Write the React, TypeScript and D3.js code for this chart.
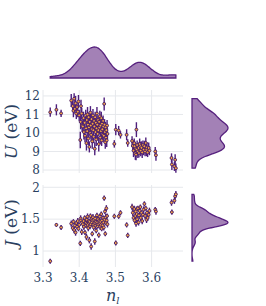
import * as d3 from "d3";

const W = 266;
const H = 306;

// n_l for each material, grouped roughly by cluster
const N_L = [
  3.320, 3.337, 3.350,
  3.378, 3.382, 3.384, 3.386, 3.388, 3.390, 3.392, 3.394, 3.396, 3.398, 3.400, 3.403, 3.404, 3.405, 3.407, 3.408,
  3.410, 3.412, 3.413, 3.415, 3.416, 3.418, 3.419, 3.420, 3.421, 3.422,
  3.423, 3.424, 3.425, 3.426, 3.427, 3.428, 3.429, 3.430, 3.431, 3.432,
  3.433, 3.434, 3.435, 3.436, 3.437, 3.438, 3.439, 3.440, 3.441, 3.442,
  3.443, 3.444, 3.445, 3.446, 3.447, 3.448, 3.449, 3.450, 3.451, 3.452,
  3.453, 3.454, 3.455, 3.456, 3.457, 3.458, 3.459, 3.460, 3.461, 3.462,
  3.463, 3.464, 3.465, 3.466, 3.467, 3.468, 3.469, 3.470, 3.471, 3.472,
  3.473, 3.474, 3.475, 3.476, 3.477, 3.478,
  3.497, 3.501, 3.509, 3.514, 3.531, 3.534, 3.546, 3.558,
  3.548, 3.550, 3.552, 3.553, 3.555, 3.556, 3.557, 3.559, 3.560, 3.562,
  3.564, 3.565, 3.567, 3.569, 3.570, 3.572, 3.574, 3.576, 3.578, 3.580,
  3.582, 3.584, 3.586, 3.587, 3.589, 3.592, 3.594, 3.610, 3.612,
  3.655, 3.656, 3.663, 3.665, 3.667,
];

const U_VAL = [
  11.12, 11.25, 11.06,
  11.75, 11.45, 11.20, 11.85, 11.30, 11.60, 11.05, 11.40, 11.15, 11.70, 10.95, 9.62, 10.60, 11.45, 11.05, 10.40,
  10.35, 10.80, 10.05, 10.55, 9.85, 10.95, 10.25, 9.45, 10.70, 10.10,
  11.00, 10.45, 9.70, 10.85, 10.30, 9.25, 10.60, 10.00, 11.10, 10.40,
  9.90, 10.75, 10.20, 9.55, 10.50, 10.95, 10.15, 9.80, 10.65, 10.35,
  9.15, 10.85, 10.05, 10.55, 9.65, 10.25, 11.05, 10.45, 9.95, 10.70,
  10.15, 9.40, 10.60, 10.30, 10.90, 9.75, 10.40, 10.10, 10.80, 9.60,
  10.50, 10.20, 9.90, 10.65, 10.35, 9.85, 11.57, 10.45, 10.05, 9.50,
  10.30, 9.75, 10.15, 9.60, 10.40, 9.95,
  9.41, 10.18, 10.13, 9.90, 9.90, 9.46, 9.57, 10.18,
  9.30, 9.05, 9.45, 9.28, 8.90, 9.15, 8.83, 9.10, 9.35, 9.00,
  9.19, 8.92, 9.40, 9.28, 9.05, 9.20, 8.95, 9.35, 9.10, 9.28,
  9.00, 9.46, 9.10, 9.22, 8.95, 9.19, 9.05, 9.00, 8.80,
  8.65, 8.30, 8.20, 8.55, 8.10,
];

const U_ERR = [
  0.25, 0.30, 0.20,
  0.35, 0.30, 0.35, 0.30, 0.25, 0.40, 0.30, 0.25, 0.30, 0.35, 0.30, 0.45, 0.40, 0.35, 0.30, 0.35,
  0.30, 0.35, 0.40, 0.30, 0.35, 0.30, 0.25, 0.40, 0.35, 0.30,
  0.40, 0.30, 0.35, 0.25, 0.35, 0.30, 0.40, 0.30, 0.35, 0.30,
  0.35, 0.30, 0.25, 0.40, 0.30, 0.35, 0.30, 0.35, 0.30, 0.25,
  0.35, 0.30, 0.40, 0.30, 0.35, 0.30, 0.35, 0.30, 0.35, 0.25,
  0.30, 0.40, 0.30, 0.35, 0.30, 0.35, 0.30, 0.25, 0.35, 0.30,
  0.30, 0.35, 0.30, 0.30, 0.25, 0.35, 0.35, 0.30, 0.30, 0.35,
  0.30, 0.25, 0.30, 0.35, 0.30, 0.30,
  0.20, 0.30, 0.25, 0.20, 0.30, 0.20, 0.25, 0.40,
  0.30, 0.35, 0.25, 0.30, 0.35, 0.25, 0.30, 0.30, 0.25, 0.35,
  0.30, 0.25, 0.30, 0.25, 0.30, 0.35, 0.30, 0.25, 0.30, 0.30,
  0.25, 0.30, 0.35, 0.30, 0.25, 0.30, 0.25, 0.25, 0.30,
  0.25, 0.30, 0.25, 0.30, 0.25,
];

const J_VAL = [
  0.84, 1.41, 1.37,
  1.43, 1.36, 1.46, 1.33, 1.40, 1.29, 1.44, 1.38, 1.47, 1.35, 1.41, 1.12, 1.51, 1.48, 1.30, 1.45,
  1.42, 1.47, 1.38, 1.52, 1.29, 1.44, 1.40, 1.22, 1.49, 1.43,
  1.54, 1.41, 1.36, 1.47, 1.44, 1.17, 1.46, 1.39, 1.55, 1.42,
  1.07, 1.50, 1.45, 1.27, 1.48, 1.53, 1.41, 1.37, 1.49, 1.44,
  1.15, 1.51, 1.40, 1.46, 1.32, 1.43, 1.56, 1.45, 1.39, 1.50,
  1.42, 1.25, 1.47, 1.44, 1.54, 1.38, 1.46, 1.41, 1.58, 1.35,
  1.48, 1.43, 1.40, 1.52, 1.45, 1.37, 1.83, 1.49, 1.62, 1.27,
  1.53, 1.44, 1.67, 1.48, 1.55, 1.42,
  1.545, 1.125, 1.545, 1.60, 1.41, 1.245, 1.69, 1.65,
  1.60, 1.52, 1.66, 1.48, 1.55, 1.62, 1.43, 1.58, 1.50, 1.67,
  1.45, 1.56, 1.63, 1.69, 1.52, 1.60, 1.47, 1.57, 1.65, 1.74,
  1.55, 1.67, 1.49, 1.60, 1.52, 1.57, 1.63, 1.65, 1.62,
  1.76, 1.61, 1.79, 1.86, 1.89,
];

const J_ERR = [
  0.04, 0.03, 0.04,
  0.05, 0.04, 0.04, 0.05, 0.04, 0.05, 0.04, 0.04, 0.05, 0.04, 0.04, 0.04, 0.05, 0.04, 0.05, 0.04,
  0.05, 0.04, 0.05, 0.04, 0.04, 0.05, 0.04, 0.05, 0.04, 0.04,
  0.05, 0.04, 0.05, 0.04, 0.04, 0.05, 0.04, 0.05, 0.04, 0.04,
  0.05, 0.04, 0.05, 0.04, 0.04, 0.05, 0.04, 0.05, 0.04, 0.04,
  0.05, 0.04, 0.05, 0.04, 0.04, 0.05, 0.04, 0.05, 0.04, 0.04,
  0.05, 0.04, 0.05, 0.04, 0.04, 0.05, 0.04, 0.05, 0.04, 0.04,
  0.05, 0.04, 0.05, 0.04, 0.04, 0.05, 0.04, 0.05, 0.04, 0.04,
  0.05, 0.04, 0.05, 0.04, 0.04, 0.05,
  0.04, 0.04, 0.04, 0.04, 0.04, 0.04, 0.05, 0.05,
  0.05, 0.04, 0.05, 0.04, 0.05, 0.04, 0.05, 0.04, 0.05, 0.04,
  0.05, 0.04, 0.05, 0.04, 0.05, 0.04, 0.05, 0.04, 0.05, 0.04,
  0.05, 0.04, 0.05, 0.04, 0.05, 0.04, 0.05, 0.04, 0.05,
  0.05, 0.04, 0.05, 0.05, 0.05,
];

const X_TICKS = [3.3, 3.4, 3.5, 3.6];
const U_TICKS = [8, 9, 10, 11, 12];
const J_TICKS = [1, 1.5, 2];

const FONT = '"DejaVu Serif", serif';
const TEXT = "#2a3f5f";
const GRID = "#e6e8ec";
const KDE_FILL = "#a381b6";
const KDE_LINE = "#56207e";
const BAR = "#4e1f7c";
const DOT = "#f5a442";
const DOT_LINE = "#451868";

// plot frames
const PX = { left: 43, right: 183 };
const U_Y = { top: 90, bottom: 173 };
const J_Y = { top: 185, bottom: 267 };
const TOP_BASE = 78;
const TOP_H = 31;
const SIDE_BASE = 192;
const SIDE_W = 36;

function kde(values: number[], bw: number, steps = 140): [number, number][] {
  const [lo, hi] = d3.extent(values) as [number, number];
  return d3.range(steps + 1).map((i) => {
    const v = lo + ((hi - lo) * i) / steps;
    const d = d3.mean(values, (s) => Math.exp(-0.5 * ((v - s) / bw) ** 2)) as number;
    return [v, d / bw];
  });
}

export default function App() {
  const x = d3.scaleLinear().domain([3.3, 3.6867]).range([PX.left, PX.right]);
  const yU = d3.scaleLinear().domain([7.84, 12.32]).range([U_Y.bottom, U_Y.top]);
  const yJ = d3.scaleLinear().domain([0.749, 2.036]).range([J_Y.bottom, J_Y.top]);

  const kdeN = kde(N_L, 0.022);
  const kdeU = kde(U_VAL, 0.24);
  const kdeJ = kde(J_VAL, 0.038);

  const hTop = d3
    .scaleLinear()
    .domain([0, d3.max(kdeN, (d) => d[1]) as number])
    .range([TOP_BASE, TOP_BASE - TOP_H]);
  const wU = d3
    .scaleLinear()
    .domain([0, d3.max(kdeU, (d) => d[1]) as number])
    .range([SIDE_BASE, SIDE_BASE + SIDE_W]);
  const wJ = d3
    .scaleLinear()
    .domain([0, d3.max(kdeJ, (d) => d[1]) as number])
    .range([SIDE_BASE, SIDE_BASE + SIDE_W]);

  const topArea = d3
    .area<[number, number]>()
    .x((d) => x(d[0]))
    .y0(TOP_BASE)
    .y1((d) => hTop(d[1]))
    .curve(d3.curveBasis);
  const uArea = d3
    .area<[number, number]>()
    .y((d) => yU(d[0]))
    .x0(SIDE_BASE)
    .x1((d) => wU(d[1]))
    .curve(d3.curveBasis);
  const jArea = d3
    .area<[number, number]>()
    .y((d) => yJ(d[0]))
    .x0(SIDE_BASE)
    .x1((d) => wJ(d[1]))
    .curve(d3.curveBasis);

  const panel = (
    y: d3.ScaleLinear<number, number>,
    frame: { top: number; bottom: number },
    ticks: number[],
    vals: number[],
    errs: number[],
    fmt: (v: number) => string
  ) => (
    <g>
      {ticks.map((t) => (
        <line key={"h" + t} x1={PX.left} x2={PX.right} y1={y(t)} y2={y(t)} stroke={GRID} strokeWidth={1} />
      ))}
      {X_TICKS.map((t) => (
        <line key={"v" + t} x1={x(t)} x2={x(t)} y1={frame.top} y2={frame.bottom} stroke={GRID} strokeWidth={1} />
      ))}
      {ticks.map((t) => (
        <text
          key={"l" + t}
          x={PX.left - 3}
          y={y(t)}
          dy="0.36em"
          textAnchor="end"
          fontFamily={FONT}
          fontSize={12}
          fill={TEXT}
        >
          {fmt(t)}
        </text>
      ))}
      {N_L.map((n, i) => (
        <line
          key={"e" + i}
          x1={x(n)}
          x2={x(n)}
          y1={y(vals[i] - errs[i])}
          y2={y(vals[i] + errs[i])}
          stroke={BAR}
          strokeWidth={1.4}
        />
      ))}
      {N_L.map((n, i) => (
        <circle
          key={"p" + i}
          cx={x(n)}
          cy={y(vals[i])}
          r={1.45}
          fill={DOT}
          stroke={DOT_LINE}
          strokeWidth={0.9}
        />
      ))}
    </g>
  );

  return (
    <div style={{ position: "absolute", left: 0, top: 0 }}>
      <svg width={W} height={H} style={{ display: "block", background: "#fff" }}>
        <path d={topArea(kdeN) as string} fill={KDE_FILL} stroke={KDE_LINE} strokeWidth={1.3} />
        <path d={uArea(kdeU) as string} fill={KDE_FILL} stroke={KDE_LINE} strokeWidth={1.3} />
        <path d={jArea(kdeJ) as string} fill={KDE_FILL} stroke={KDE_LINE} strokeWidth={1.3} />

        {panel(yU, U_Y, U_TICKS, U_VAL, U_ERR, (v) => d3.format("d")(v))}
        {panel(yJ, J_Y, J_TICKS, J_VAL, J_ERR, (v) => String(v))}

        {X_TICKS.map((t) => (
          <text
            key={"x" + t}
            x={x(t)}
            y={282}
            textAnchor="middle"
            fontFamily={FONT}
            fontSize={12}
            fill={TEXT}
          >
            {t.toFixed(1)}
          </text>
        ))}

        <text x={106} y={301} fontFamily={FONT} fontSize={16} fontStyle="italic" fill={TEXT}>
          n
          <tspan dy={3} fontSize={10}>l</tspan>
        </text>

        <text
          transform={`translate(17,${(U_Y.top + U_Y.bottom) / 2}) rotate(-90)`}
          textAnchor="middle"
          fontFamily={FONT}
          fontSize={17}
          fill={TEXT}
        >
          <tspan fontStyle="italic">U</tspan> (eV)
        </text>
        <text
          transform={`translate(17,${(J_Y.top + J_Y.bottom) / 2 - 3}) rotate(-90)`}
          textAnchor="middle"
          fontFamily={FONT}
          fontSize={17}
          fill={TEXT}
        >
          <tspan fontStyle="italic">J</tspan> (eV)
        </text>
      </svg>
    </div>
  );
}
